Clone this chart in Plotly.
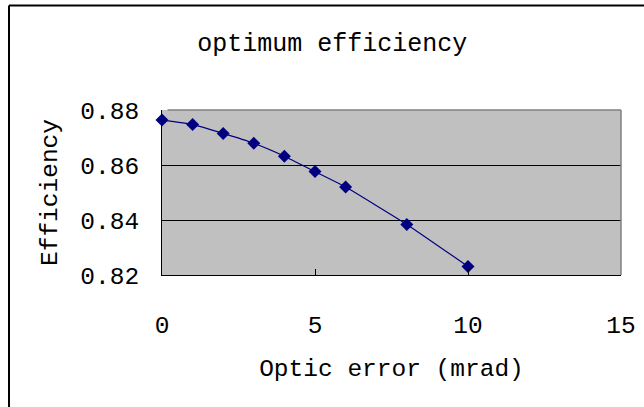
import plotly.graph_objects as go

# optic error (mrad) vs optimum efficiency
optic_error = [0, 1, 2, 3, 4, 5, 6, 8, 10]
efficiency = [0.8764, 0.8747, 0.8715, 0.8679, 0.8632, 0.8576, 0.8520, 0.8384, 0.8231]

x_ticks = [0, 5, 10, 15]
y_ticks = [0.82, 0.84, 0.86, 0.88]

FONT = "Liberation Mono"
NAVY = "#000080"
TXT = dict(family=FONT, size=24.5, color="black")

fig = go.Figure(go.Scatter(
    x=optic_error, y=efficiency,
    mode="lines+markers",
    line=dict(color=NAVY, width=1.2, shape="spline", smoothing=0.4),
    marker=dict(symbol="diamond", size=10, color=NAVY),
    cliponaxis=False,
))

fig.update_layout(
    width=644, height=407,
    margin=dict(l=162, r=23, t=110, b=132, autoexpand=False),
    paper_bgcolor="white",
    plot_bgcolor="#c0c0c0",
    showlegend=False,
    font=TXT,
    title=dict(text="optimum efficiency", x=0.516, xanchor="center",
               y=0.895, yanchor="middle", font=dict(family=FONT, size=25)),
)

fig.update_xaxes(
    range=[0, 15], tickvals=x_ticks, showgrid=False, zeroline=False,
    showline=True, linecolor="black", linewidth=1,
    ticks="inside", ticklen=6, tickcolor="black",
    tickfont=TXT, ticklabelstandoff=28,
    title=dict(text="Optic error (mrad)", standoff=19, font=TXT),
)
fig.update_yaxes(
    range=[0.82, 0.88], tickvals=y_ticks, tickformat=".2f",
    showgrid=True, gridcolor="black", gridwidth=1, zeroline=False,
    showline=True, linecolor="black", linewidth=1,
    ticks="inside", ticklen=5, tickcolor="black",
    tickfont=TXT, ticklabelstandoff=17,
    title=dict(text="Efficiency", standoff=15, font=TXT),
)

# grey plot-area frame on top and right, drawn over the top gridline
fig.add_shape(type="line", xref="x domain", yref="y domain",
              x0=0.012, x1=1, y0=1, y1=1,
              line=dict(color="#808080", width=1.5))
fig.add_shape(type="line", xref="x domain", yref="y domain",
              x0=1, x1=1, y0=0, y1=1,
              line=dict(color="#808080", width=1.5))

# chart border, cropped: only the top and left edges show
fig.add_shape(type="line", xref="paper", yref="paper",
              x0=(9 - 162) / 459, x1=(650 - 162) / 459,
              y0=(275 - 5.5) / 165, y1=(275 - 5.5) / 165,
              line=dict(color="black", width=2))
fig.add_shape(type="line", xref="paper", yref="paper",
              x0=(9 - 162) / 459, x1=(9 - 162) / 459,
              y0=(275 - 5.5) / 165, y1=(275 - 420) / 165,
              line=dict(color="black", width=2))

# drop the browser's default body margin so the figure sits at (0, 0)
fig.write_html("out.html", config={"displayModeBar": False},
               post_script="document.body.style.margin='0';")
